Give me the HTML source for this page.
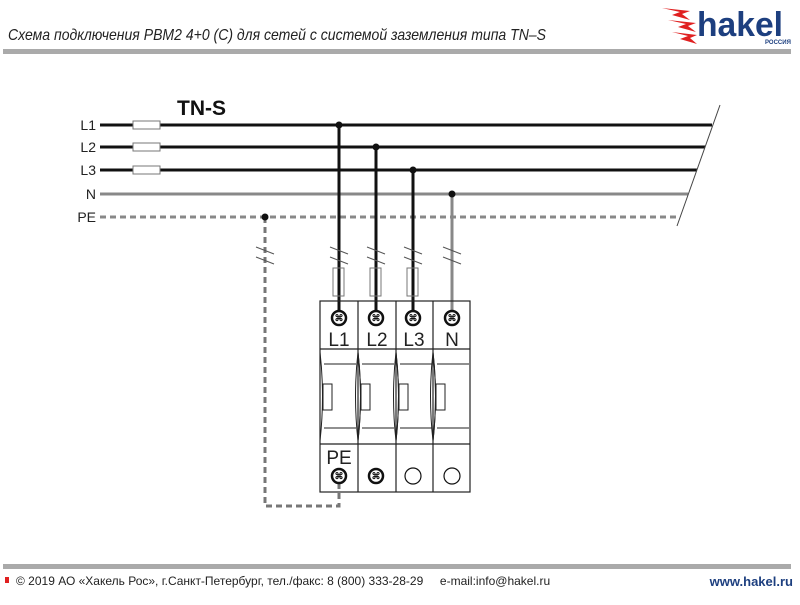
<!DOCTYPE html>
<html><head><meta charset="utf-8"><style>
body{margin:0;width:800px;height:600px;background:#fff;overflow:hidden;font-family:"Liberation Sans",sans-serif}
</style></head><body>
<svg width="800" height="600" viewBox="0 0 800 600" xmlns="http://www.w3.org/2000/svg">
<text x="8" y="40" font-family="Liberation Sans, sans-serif" font-style="italic" font-size="16" fill="#222" textLength="538" lengthAdjust="spacingAndGlyphs">Схема подключения РВМ2 4+0 (С) для сетей с системой заземления типа TN–S</text>
<rect x="3" y="49" width="788" height="5" fill="#aaa"/>
<g fill="#e02020">
<polygon points="662,8 680,12 672,15 690,20 682,14 690,11"/>
<polygon points="668,20 686,24 678,27 696,32 688,26 696,23"/>
<polygon points="672,32 688,36 680,39 697,44 690,38 697,35"/>
</g>
<text x="697" y="36" font-family="Liberation Sans, sans-serif" font-weight="bold" font-size="34" fill="#1d3f7f" textLength="86" lengthAdjust="spacingAndGlyphs">hakel</text>
<text x="765" y="44" font-size="6" font-weight="bold" fill="#1d3f7f">РОССИЯ</text>
<text x="177" y="115" font-weight="bold" font-size="21" fill="#111">TN-S</text>
<g font-size="14" fill="#222" text-anchor="end">
<text x="96" y="130">L1</text><text x="96" y="152">L2</text><text x="96" y="175">L3</text><text x="96" y="199">N</text><text x="96" y="222">PE</text>
</g>
<g stroke="#111" stroke-width="3">
<line x1="100" y1="125" x2="712" y2="125"/>
<line x1="100" y1="147" x2="705" y2="147"/>
<line x1="100" y1="170" x2="697" y2="170"/>
</g>
<line x1="100" y1="194" x2="688" y2="194" stroke="#888" stroke-width="3"/>
<line x1="100" y1="217" x2="680" y2="217" stroke="#888" stroke-width="3" stroke-dasharray="6,4"/>
<line x1="720" y1="105" x2="677" y2="226" stroke="#444" stroke-width="1"/>
<g fill="#fff" stroke="#777" stroke-width="1">
<rect x="133" y="121" width="27" height="8"/><rect x="133" y="143" width="27" height="8"/><rect x="133" y="166" width="27" height="8"/>
</g>
<g stroke="#111" stroke-width="3">
<line x1="339" y1="125" x2="339" y2="318"/>
<line x1="376" y1="147" x2="376" y2="318"/>
<line x1="413" y1="170" x2="413" y2="318"/>
</g>
<line x1="452" y1="194" x2="452" y2="318" stroke="#888" stroke-width="3"/>
<polyline points="265,217 265,506 339,506 339,480" fill="none" stroke="#777" stroke-width="3" stroke-dasharray="6,4"/>
<g fill="#111"><circle cx="339" cy="125" r="3.5"/><circle cx="376" cy="147" r="3.5"/><circle cx="413" cy="170" r="3.5"/><circle cx="452" cy="194" r="3.5"/><circle cx="265" cy="217" r="3.5"/></g>
<g stroke="#555" stroke-width="1">
<line x1="256" y1="247" x2="274" y2="254"/><line x1="256" y1="257" x2="274" y2="264"/>
<line x1="330" y1="247" x2="348" y2="254"/><line x1="330" y1="257" x2="348" y2="264"/>
<line x1="367" y1="247" x2="385" y2="254"/><line x1="367" y1="257" x2="385" y2="264"/>
<line x1="404" y1="247" x2="422" y2="254"/><line x1="404" y1="257" x2="422" y2="264"/>
<line x1="443" y1="247" x2="461" y2="254"/><line x1="443" y1="257" x2="461" y2="264"/>
</g>
<g fill="none" stroke="#777" stroke-width="1">
<rect x="333" y="268" width="11" height="28"/><rect x="370" y="268" width="11" height="28"/><rect x="407" y="268" width="11" height="28"/>
</g>
<g fill="none" stroke="#222" stroke-width="1.2">
<rect x="320" y="301" width="150" height="191"/>
<line x1="358" y1="301" x2="358" y2="492"/><line x1="396" y1="301" x2="396" y2="492"/><line x1="433" y1="301" x2="433" y2="492"/>
<line x1="320" y1="349" x2="470" y2="349"/><line x1="320" y1="444" x2="470" y2="444"/>
</g>
<g fill="none" stroke="#222" stroke-width="1">
<g id="m"><line x1="324" y1="364" x2="356" y2="364"/><line x1="324" y1="428" x2="356" y2="428"/><rect x="323" y="384" width="9" height="26"/><path d="M320,352 Q325,396 320,441"/></g>
<use href="#m" x="38"/><use href="#m" x="76"/><use href="#m" x="113"/>
<path d="M358,352 Q353,396 358,441 Q363,396 358,352"/><path d="M396,352 Q391,396 396,441 Q401,396 396,352"/><path d="M433,352 Q428,396 433,441 Q438,396 433,352"/>
</g>
<g stroke="#111" fill="#fff">
<g stroke-width="2.5"><circle cx="339" cy="318" r="7"/><circle cx="376" cy="318" r="7"/><circle cx="413" cy="318" r="7"/><circle cx="452" cy="318" r="7"/><circle cx="339" cy="476" r="7"/><circle cx="376" cy="476" r="7"/></g>
<g stroke-width="1.2"><circle cx="413" cy="476" r="8"/><circle cx="452" cy="476" r="8"/></g>
</g>
<g font-size="9" fill="#111" text-anchor="middle" font-weight="bold">
<text x="339" y="321">⌘</text><text x="376" y="321">⌘</text><text x="413" y="321">⌘</text><text x="452" y="321">⌘</text><text x="339" y="479">⌘</text><text x="376" y="479">⌘</text>
</g>
<g font-size="19" fill="#222" text-anchor="middle">
<text x="339" y="346">L1</text><text x="377" y="346">L2</text><text x="414" y="346">L3</text><text x="452" y="346">N</text><text x="339" y="464">PE</text>
</g>
<rect x="3" y="564" width="788" height="5" fill="#aaa"/>
<rect x="5" y="577" width="4" height="6" fill="#e02020"/>
<text x="16" y="585" font-size="12" fill="#222">© 2019 АО «Хакель Рос», г.Санкт-Петербург, тел./факс: 8 (800) 333-28-29 &#160;&#160;&#160; e-mail:info@hakel.ru</text>
<text x="793" y="586" font-size="13" font-weight="bold" fill="#1d3f7f" text-anchor="end">www.hakel.ru</text>
</svg>
</body></html>
